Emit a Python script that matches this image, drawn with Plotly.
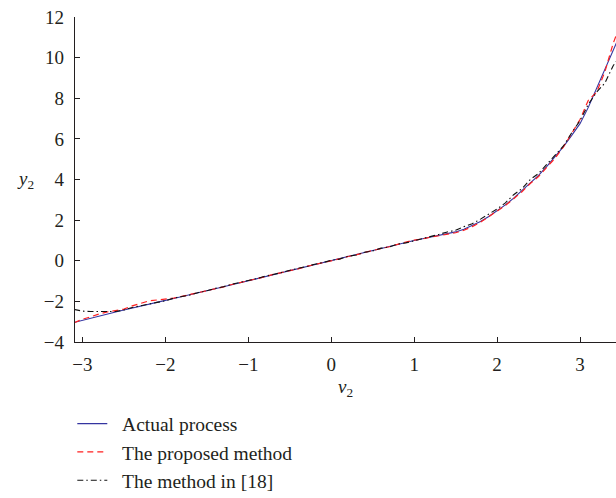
import plotly.graph_objects as go

v2 = [-3.1, -3.0, -2.9, -2.8, -2.7, -2.6, -2.5, -2.4, -2.3, -2.2, -2.1, -2.0,
      -1.9, -1.8, -1.7, -1.6, -1.5, -1.4, -1.3, -1.2, -1.1, -1.0,
      -0.9, -0.8, -0.7, -0.6, -0.5, -0.4, -0.3, -0.2, -0.1, 0.0,
      0.1, 0.2, 0.3, 0.4, 0.5, 0.6, 0.7, 0.8, 0.9, 1.0,
      1.1, 1.2, 1.3, 1.4, 1.5, 1.6, 1.7, 1.8, 1.9, 2.0,
      2.1, 2.2, 2.3, 2.4, 2.5, 2.6, 2.7, 2.8, 2.9, 3.0,
      3.1, 3.2, 3.3, 3.4, 3.5]

actual = [-3.04, -2.93, -2.83, -2.72, -2.62, -2.52, -2.42, -2.32, -2.22, -2.13, -2.04, -1.95,
          -1.86, -1.77, -1.67, -1.58, -1.48, -1.38, -1.28, -1.18, -1.08, -0.98,
          -0.88, -0.78, -0.68, -0.59, -0.49, -0.39, -0.29, -0.19, -0.09, 0.0,
          0.10, 0.20, 0.30, 0.40, 0.50, 0.60, 0.70, 0.80, 0.90, 1.00,
          1.08, 1.16, 1.24, 1.32, 1.42, 1.55, 1.72, 1.93, 2.18, 2.45,
          2.75, 3.08, 3.45, 3.82, 4.20, 4.65, 5.12, 5.62, 6.17, 6.75,
          7.55, 8.50, 9.50, 10.40, 11.30]

proposed = [-3.05, -2.88, -2.76, -2.62, -2.52, -2.45, -2.38, -2.22, -2.10, -1.98, -1.93, -1.90,
            -1.84, -1.75, -1.66, -1.58, -1.46, -1.37, -1.29, -1.17, -1.08, -0.99,
            -0.87, -0.79, -0.67, -0.59, -0.48, -0.40, -0.28, -0.19, -0.08, 0.01,
            0.09, 0.21, 0.29, 0.41, 0.50, 0.61, 0.69, 0.81, 0.90, 1.02,
            1.07, 1.17, 1.23, 1.30, 1.38, 1.50, 1.68, 1.90, 2.16, 2.42,
            2.72, 3.05, 3.40, 3.80, 4.15, 4.60, 5.05, 5.60, 6.25, 6.95,
            7.90, 8.30, 9.30, 10.70, 11.80]

method18 = [-2.40, -2.48, -2.50, -2.50, -2.52, -2.50, -2.42, -2.30, -2.22, -2.12, -2.05, -1.97,
            -1.84, -1.76, -1.68, -1.56, -1.48, -1.36, -1.28, -1.16, -1.08, -0.97,
            -0.88, -0.76, -0.68, -0.57, -0.49, -0.37, -0.29, -0.17, -0.09, 0.02,
            0.08, 0.22, 0.28, 0.42, 0.48, 0.62, 0.68, 0.82, 0.88, 0.98,
            1.10, 1.18, 1.30, 1.42, 1.50, 1.68, 1.82, 2.05, 2.30, 2.55,
            2.85, 3.25, 3.55, 4.00, 4.30, 4.75, 5.15, 5.65, 6.30, 6.90,
            7.70, 8.30, 8.75, 9.60, 10.20]

series_names = ["Actual process", "The proposed method", "The method in [18]"]
x_ticks = [-3, -2, -1, 0, 1, 2, 3]
y_ticks = [-4, -2, 0, 2, 4, 6, 8, 10, 12]
x_range = [-3.09, 3.434]
y_range = [-4, 12]

ink = "#231f20"
font_family = "Liberation Serif, Times New Roman, serif"
pad = "\u00a0\u00a0"

fig = go.Figure()
fig.add_trace(go.Scatter(x=v2, y=actual, mode="lines", name=pad + series_names[0],
                         line=dict(color="#3434a0", width=1.1)))
fig.add_trace(go.Scatter(x=v2, y=proposed, mode="lines", name=pad + series_names[1],
                         line=dict(color="#ff1f1f", width=1.2, dash="6px,4px")))
fig.add_trace(go.Scatter(x=v2, y=method18, mode="lines", name=pad + series_names[2],
                         line=dict(color="#111111", width=1.1, dash="6px,3px,1.5px,3px")))

fig.update_layout(
    width=616, height=498,
    margin=dict(l=75, r=0, t=17, b=156, autoexpand=False),
    paper_bgcolor="white", plot_bgcolor="white",
    font=dict(family=font_family, size=19, color=ink),
    showlegend=True,
    legend=dict(x=-0.005, xanchor="left", y=-0.192, yanchor="top",
                font=dict(size=19.5, color=ink), bgcolor="rgba(0,0,0,0)",
                traceorder="normal"),
    xaxis=dict(range=x_range, tickvals=x_ticks, ticks="inside", ticklen=5,
               tickcolor=ink, tickwidth=1, showline=True, linecolor=ink, linewidth=1.3,
               mirror=False, showgrid=False, zeroline=False,
               title=dict(text="<i>v</i><sub>2</sub>", standoff=5,
                          font=dict(size=19, color=ink)),
               ticklabelstandoff=5),
    xaxis2=dict(range=x_range, tickvals=x_ticks, ticks="inside", ticklen=5,
                tickcolor=ink, tickwidth=1, showline=True, linecolor=ink, linewidth=1.3,
                overlaying="x", side="top", showticklabels=False, showgrid=False,
                zeroline=False),
    yaxis=dict(range=y_range, tickvals=y_ticks, ticks="inside", ticklen=5,
               tickcolor=ink, tickwidth=1, showline=True, linecolor=ink, linewidth=1.3,
               mirror=False, showgrid=False, zeroline=False, ticklabelstandoff=6),
    yaxis2=dict(range=y_range, tickvals=y_ticks, ticks="inside", ticklen=5,
                tickcolor=ink, tickwidth=1, showline=False, overlaying="y", side="right",
                showticklabels=False, showgrid=False, zeroline=False),
)

fig.add_annotation(text="<i>y</i><sub>2</sub>", xref="paper", yref="paper",
                   x=-0.092, y=0.5, xanchor="center", yanchor="middle",
                   showarrow=False, font=dict(size=19, color=ink, family=font_family))

fig.write_html("out.html")
